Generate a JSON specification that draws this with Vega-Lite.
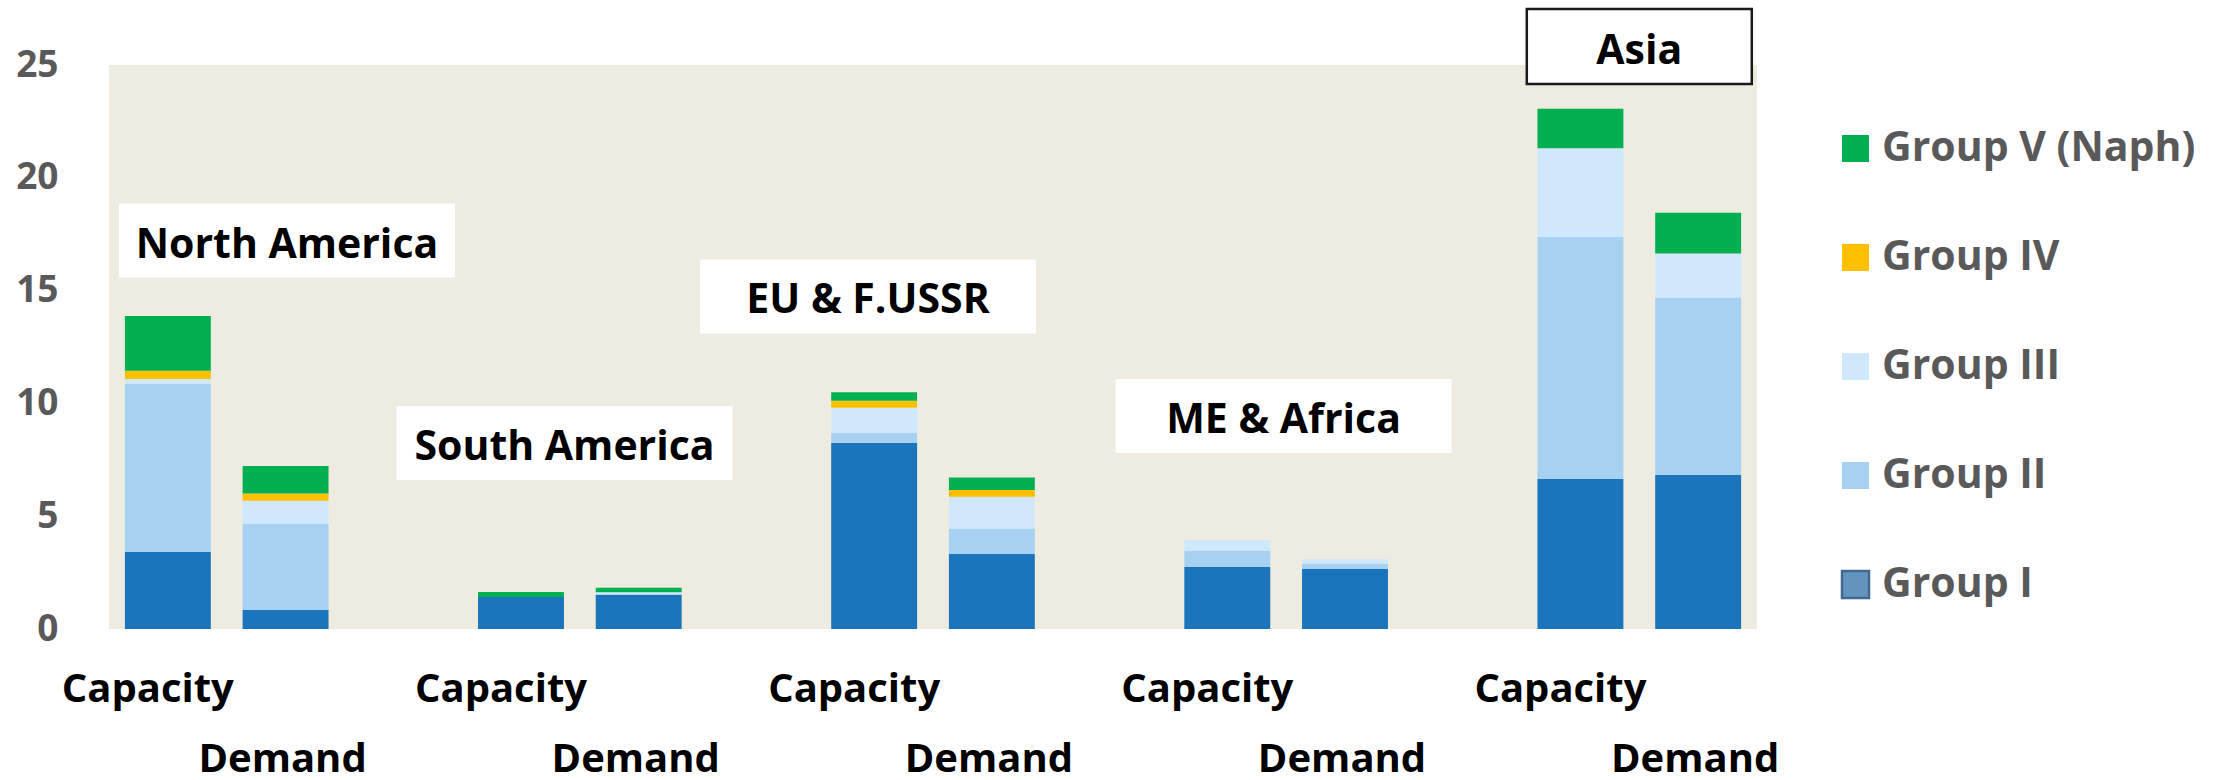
{
  "$schema": "https://vega.github.io/schema/vega-lite/v6.json",
  "width": 1648,
  "height": 564,
  "autosize": {"type": "none"},
  "padding": {"left": 109, "top": 65, "right": 459, "bottom": 151},
  "background": "white",
  "config": {
    "view": {"fill": "#EEECE1", "stroke": null},
    "font": "Open Sans"
  },
  "datasets": {
    "bars": [
      {"bar": "North America|Capacity", "group": "Group I", "value": 3.41},
      {"bar": "North America|Capacity", "group": "Group II", "value": 7.45},
      {"bar": "North America|Capacity", "group": "Group III", "value": 0.22},
      {"bar": "North America|Capacity", "group": "Group IV", "value": 0.37},
      {"bar": "North America|Capacity", "group": "Group V (Naph)", "value": 2.42},
      {"bar": "North America|Demand", "group": "Group I", "value": 0.84},
      {"bar": "North America|Demand", "group": "Group II", "value": 3.81},
      {"bar": "North America|Demand", "group": "Group III", "value": 1.04},
      {"bar": "North America|Demand", "group": "Group IV", "value": 0.32},
      {"bar": "North America|Demand", "group": "Group V (Naph)", "value": 1.22},
      {"bar": "South America|Capacity", "group": "Group I", "value": 1.42},
      {"bar": "South America|Capacity", "group": "Group V (Naph)", "value": 0.22},
      {"bar": "South America|Demand", "group": "Group I", "value": 1.51},
      {"bar": "South America|Demand", "group": "Group II", "value": 0.05},
      {"bar": "South America|Demand", "group": "Group III", "value": 0.07},
      {"bar": "South America|Demand", "group": "Group V (Naph)", "value": 0.2},
      {"bar": "EU & F.USSR|Capacity", "group": "Group I", "value": 8.26},
      {"bar": "EU & F.USSR|Capacity", "group": "Group II", "value": 0.44},
      {"bar": "EU & F.USSR|Capacity", "group": "Group III", "value": 1.11},
      {"bar": "EU & F.USSR|Capacity", "group": "Group IV", "value": 0.31},
      {"bar": "EU & F.USSR|Capacity", "group": "Group V (Naph)", "value": 0.37},
      {"bar": "EU & F.USSR|Demand", "group": "Group I", "value": 3.32},
      {"bar": "EU & F.USSR|Demand", "group": "Group II", "value": 1.13},
      {"bar": "EU & F.USSR|Demand", "group": "Group III", "value": 1.41},
      {"bar": "EU & F.USSR|Demand", "group": "Group IV", "value": 0.3},
      {"bar": "EU & F.USSR|Demand", "group": "Group V (Naph)", "value": 0.56},
      {"bar": "ME & Africa|Capacity", "group": "Group I", "value": 2.75},
      {"bar": "ME & Africa|Capacity", "group": "Group II", "value": 0.71},
      {"bar": "ME & Africa|Capacity", "group": "Group III", "value": 0.49},
      {"bar": "ME & Africa|Demand", "group": "Group I", "value": 2.66},
      {"bar": "ME & Africa|Demand", "group": "Group II", "value": 0.24},
      {"bar": "ME & Africa|Demand", "group": "Group III", "value": 0.19},
      {"bar": "Asia|Capacity", "group": "Group I", "value": 6.65},
      {"bar": "Asia|Capacity", "group": "Group II", "value": 10.73},
      {"bar": "Asia|Capacity", "group": "Group III", "value": 3.93},
      {"bar": "Asia|Capacity", "group": "Group V (Naph)", "value": 1.75},
      {"bar": "Asia|Demand", "group": "Group I", "value": 6.83},
      {"bar": "Asia|Demand", "group": "Group II", "value": 7.86},
      {"bar": "Asia|Demand", "group": "Group III", "value": 1.96},
      {"bar": "Asia|Demand", "group": "Group V (Naph)", "value": 1.8}
    ],
    "regions": [
      {"label": "North America", "x": 1.512, "y": 17.22},
      {"label": "South America", "x": 3.87, "y": 8.24},
      {"label": "EU & F.USSR", "x": 6.448, "y": 14.74},
      {"label": "ME & Africa", "x": 9.978, "y": 9.44},
      {"label": "Asia", "x": 13.0, "y": 25.82}
    ]
  },
  "layer": [
    {
      "data": {"name": "bars"},
      "mark": {"type": "bar"},
      "encoding": {
        "x": {
          "field": "bar",
          "type": "nominal",
          "sort": null,
          "scale": {
            "domain": ["North America|Capacity", "North America|Demand", "s1", "South America|Capacity", "South America|Demand", "s2", "EU & F.USSR|Capacity", "EU & F.USSR|Demand", "s3", "ME & Africa|Capacity", "ME & Africa|Demand", "s4", "Asia|Capacity", "Asia|Demand"],
            "paddingInner": 0.27,
            "paddingOuter": 0.135
          },
          "axis": {
            "title": null,
            "labelExpr": "indexof(datum.value, '|') >= 0 ? split(datum.value, '|')[1] : ''",
            "labelAngle": 0,
            "labelFont": "Open Sans",
            "labelFontSize": 40,
            "labelFontWeight": "bold",
            "labelColor": "#000000",
            "labelPadding": {"condition": {"test": "indexof(datum.value, 'Demand') >= 0", "value": 110}, "value": 40},
            "labelOffset": {"condition": {"test": "indexof(datum.value, 'Demand') >= 0", "value": -3}, "value": -20},
            "labelOverlap": false,
            "labelBound": false,
            "labelFlush": false,
            "labelLimit": 400,
            "domain": false,
            "ticks": false,
            "tickSize": 0,
            "grid": false
          }
        },
        "y": {
          "field": "value",
          "type": "quantitative",
          "stack": "zero",
          "scale": {"domain": [0, 25], "nice": false},
          "axis": {
            "title": null,
            "values": [0, 5, 10, 15, 20, 25],
            "labelFont": "Open Sans",
            "labelFontSize": 37,
            "labelFontWeight": "bold",
            "labelColor": "#595959",
            "labelPadding": 51,
            "domain": false,
            "ticks": false,
            "tickSize": 0,
            "grid": false
          }
        },
        "order": {"field": "group", "sort": "ascending"},
        "color": {
          "field": "group",
          "type": "nominal",
          "condition": {"test": "datum.group === 'Group I'", "value": "#1B75BC"},
          "scale": {
            "domain": ["Group V (Naph)", "Group IV", "Group III", "Group II", "Group I"],
            "range": ["#00B050", "#FFC000", "#D0E8FB", "#A6D1F2", "#6295BE"]
          },
          "legend": {
            "orient": "none",
            "legendX": 1726,
            "legendY": 63,
            "title": null,
            "padding": 0,
            "symbolType": "square",
            "symbolSize": 729,
            "symbolStrokeWidth": 0,
            "symbolOpacity": 1,
            "labelFont": "Open Sans",
            "labelFontSize": 41,
            "labelFontWeight": "bold",
            "labelColor": "#595959",
            "labelOffset": 6,
            "labelLimit": 600,
            "rowPadding": 67,
            "encode": {
              "symbols": {
                "update": {
                  "stroke": {"signal": "datum.label === 'Group I' ? '#41698F' : 'transparent'"},
                  "strokeWidth": {"signal": "datum.label === 'Group I' ? 2.5 : 0"}
                }
              }
            }
          }
        }
      }
    },
    {
      "data": {"name": "regions"},
      "encoding": {
        "x": {"field": "x", "type": "quantitative", "scale": {"domain": [0, 14], "nice": false, "zero": false}, "axis": null},
        "y": {"field": "y", "type": "quantitative"}
      },
      "layer": [
        {
          "mark": {"type": "point", "filled": true, "fill": "white", "opacity": 1, "strokeWidth": 2.5},
          "encoding": {
            "shape": {"condition": {"test": "datum.label === 'Asia'", "value": "M-1,-0.3333H1V0.3333H-1Z"}, "value": "M-1,-0.2202H1V0.2202H-1Z"},
            "size": {"condition": {"test": "datum.label === 'Asia'", "value": 50625}, "value": 112896},
            "stroke": {"condition": {"test": "datum.label === 'Asia'", "value": "#1a1a1a"}, "value": "transparent"}
          }
        },
        {
          "mark": {"type": "text", "font": "Open Sans", "fontSize": 41, "fontWeight": "bold", "color": "#000000", "align": "center", "baseline": "alphabetic", "dy": 17},
          "encoding": {
            "text": {"field": "label", "type": "nominal"}
          }
        }
      ]
    }
  ],
  "resolve": {"scale": {"x": "independent"}, "axis": {"x": "independent"}}
}
